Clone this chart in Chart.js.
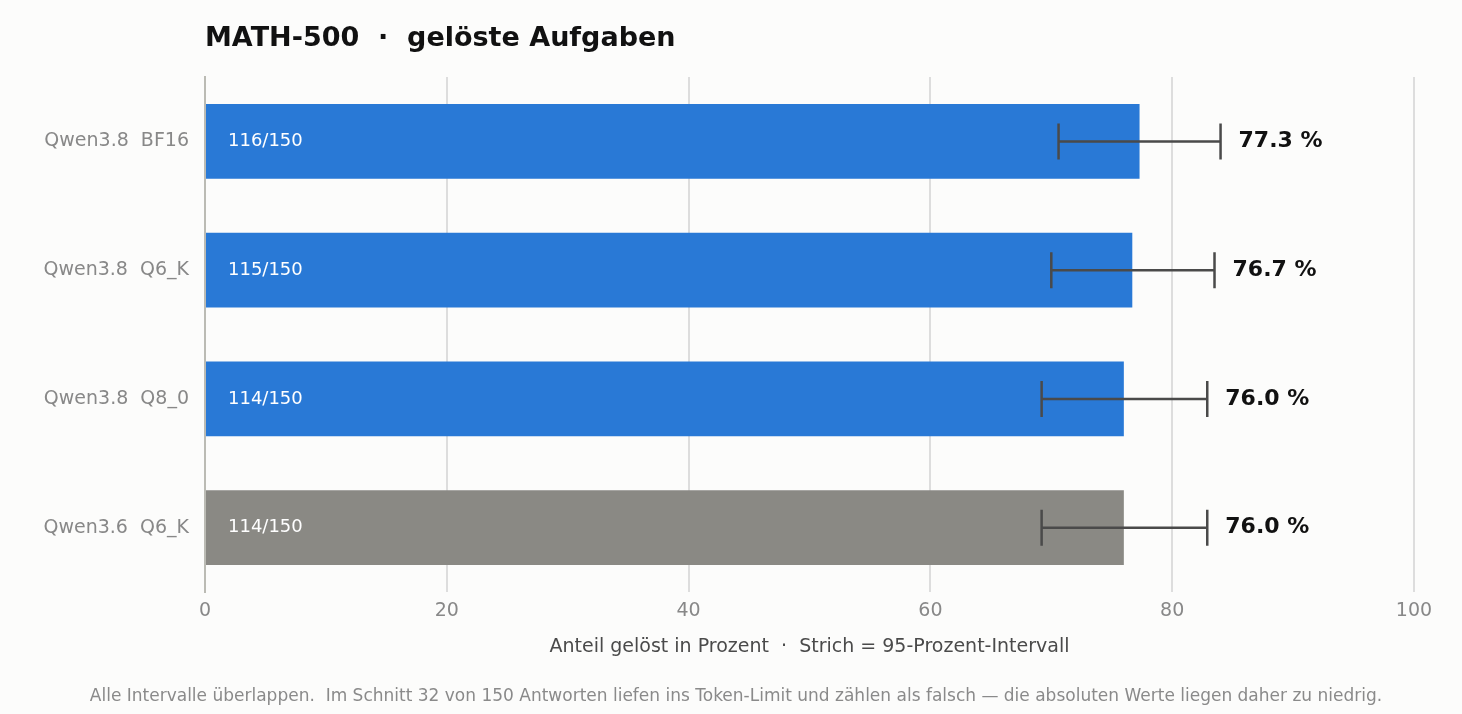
<!DOCTYPE html>
<html>
<head>
<meta charset="utf-8">
<script src="https://cdn.jsdelivr.net/npm/chart.js@4/dist/chart.umd.min.js"></script>
<style>
  body { margin: 0; background: #fcfcfb; }
  canvas { display: block; }
</style>
</head>
<body>
<canvas id="myChart" width="1462" height="714"></canvas>
<script>
const modelle = ["Qwen3.8  BF16", "Qwen3.8  Q6_K", "Qwen3.8  Q8_0", "Qwen3.6  Q6_K"];
const anteil = [77.3, 76.7, 76.0, 76.0];
const geloest = ["116/150", "115/150", "114/150", "114/150"];
const ciUnten = [70.6, 70.0, 69.2, 69.2];
const ciOben = [84.0, 83.5, 82.9, 82.9];
const farben = ["#2979d6", "#2979d6", "#2979d6", "#8a8984"];
const xTicks = [0, 20, 40, 60, 80, 100];

const fontFam = "'DejaVu Sans', sans-serif";

const extras = {
  id: "extras",
  afterDatasetsDraw(chart) {
    const ctx = chart.ctx;
    const x = chart.scales.x;
    const meta = chart.getDatasetMeta(0);
    ctx.save();
    meta.data.forEach((bar, i) => {
      const y = bar.y;
      // Fehlerbalken
      const x1 = x.getPixelForValue(ciUnten[i]);
      const x2 = x.getPixelForValue(ciOben[i]);
      ctx.strokeStyle = "#4a4a4a";
      ctx.lineWidth = 2.5;
      ctx.beginPath();
      ctx.moveTo(x1, y); ctx.lineTo(x2, y);
      ctx.moveTo(x1, y - 18); ctx.lineTo(x1, y + 18);
      ctx.moveTo(x2, y - 18); ctx.lineTo(x2, y + 18);
      ctx.stroke();
      // Wert
      ctx.fillStyle = "#111";
      ctx.font = "bold 22px " + fontFam;
      ctx.textAlign = "left";
      ctx.textBaseline = "middle";
      ctx.fillText(anteil[i].toFixed(1) + " %", x2 + 18, y);
      // innen
      ctx.fillStyle = "#ffffff";
      ctx.font = "18px " + fontFam;
      ctx.fillText(geloest[i], x.getPixelForValue(0) + 23, y);
    });
    // Titel
    ctx.fillStyle = "#111";
    ctx.font = "bold 27px " + fontFam;
    ctx.textAlign = "left";
    ctx.fillText("MATH-500  \u00b7  gel\u00f6ste Aufgaben", 205, 39);
    // Fussnote
    ctx.fillStyle = "#8a8a8a";
    ctx.font = "17px " + fontFam;
    ctx.textAlign = "center";
    ctx.fillText("Alle Intervalle \u00fcberlappen.  Im Schnitt 32 von 150 Antworten liefen ins Token-Limit und z\u00e4hlen als falsch \u2014 die absoluten Werte liegen daher zu niedrig.", 736, 697);
    ctx.restore();
  }
};

new Chart(document.getElementById("myChart"), {
  type: "bar",
  data: {
    labels: modelle,
    datasets: [{
      data: anteil,
      backgroundColor: farben,
      barPercentage: 0.58,
      categoryPercentage: 1.0
    }]
  },
  options: {
    indexAxis: "y",
    responsive: false,
    animation: false,
    devicePixelRatio: 1,
    layout: { padding: { top: 77, right: 48, bottom: 52, left: 0 } },
    plugins: { legend: { display: false }, tooltip: { enabled: false } },
    scales: {
      x: {
        min: 0, max: 100,
        afterBuildTicks: (s) => { s.ticks = xTicks.map(v => ({ value: v })); },
        afterFit: (s) => { s.height = 70; },
        grid: { color: "#dddddd", lineWidth: 2, drawTicks: false },
        border: { display: false },
        ticks: { color: "#888", font: { size: 19, family: fontFam }, padding: 8 },
        title: {
          display: true,
          text: "Anteil gel\u00f6st in Prozent  \u00b7  Strich = 95-Prozent-Intervall",
          color: "#4a4a4a",
          font: { size: 19, family: fontFam },
          padding: { top: 4 }
        }
      },
      y: {
        afterFit: (s) => { s.width = 205; },
        grid: { display: false },
        border: { color: "#bbbbb4", width: 2 },
        ticks: { color: "#888", font: { size: 19, family: fontFam }, padding: 8 }
      }
    }
  },
  plugins: [extras]
});
</script>
</body>
</html>
